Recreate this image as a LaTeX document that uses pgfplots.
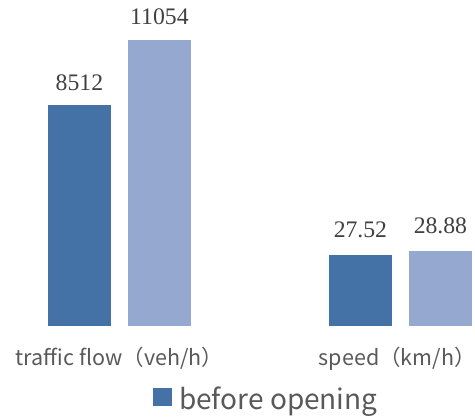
\documentclass[border=0pt]{standalone}
\usepackage{pgfplots}
\pgfplotsset{compat=1.18}
\usepackage{fontspec}
\setmainfont{Liberation Serif}
\newfontfamily\cjk{Noto Sans CJK SC}
\definecolor{dark}{HTML}{4472A6}
\definecolor{light}{HTML}{95A9D0}
\definecolor{labgray}{HTML}{595959}
\definecolor{numgray}{HTML}{404040}
\begin{document}
\begin{tikzpicture}
\useasboundingbox (0pt,-90pt) rectangle (475pt,326pt);
\pgfplotsset{
  common/.style={
    scale only axis, width=474.9pt, height=311pt,
    xmin=-0.425, xmax=1.265,
    ybar, bar width=63pt,
    axis line style={draw=none}, major tick length=0pt,
    ytick=\empty,
    nodes near coords,
    every node near coord/.append style={anchor=base, font=\fontsize{23.7}{24}\selectfont, text=numgray},
    /pgf/number format/.cd, fixed, precision=2, 1000 sep={}, assume math mode=true,
  }
}
\begin{axis}[common,
  ymin=0, ymax=12000,
  xtick={0},
  xticklabels={traffic flow（veh/h）},
  extra x ticks={1},
  extra x tick labels={speed（km/h\makebox[0.5em][l]{）}},
  extra x tick style={xticklabel style={xshift=-8.5pt}},
  xticklabel style={anchor=base, inner sep=0pt, yshift=-39.7pt, font=\cjk\fontsize{21.5}{22}\selectfont, text=labgray},
  every node near coord/.append style={yshift=14.8pt},
  legend style={at={(axis description cs:0.322,-0.196)}, anchor=north west, draw=none, fill=none, inner sep=0pt,
    nodes={inner sep=0pt, font=\cjk\fontsize{28}{29}\selectfont, text=labgray}},
  legend image code/.code={\fill[#1,draw=none] (0pt,-7.2pt) rectangle (18.5pt,11.3pt); \path (26pt,0pt);},
]
\addplot[fill=dark, draw=none, bar shift=-40pt] coordinates {(0,8512)};
\addlegendentry{before opening}
\addplot[fill=light, draw=none, bar shift=40pt] coordinates {(0,11054)};
\end{axis}
\begin{axis}[common,
  ymin=0, ymax=120,
  xtick=\empty,
  every node near coord/.append style={yshift=17.5pt},
]
\addplot[fill=dark, draw=none, bar shift=-40pt] coordinates {(1,27.52)};
\addplot[fill=light, draw=none, bar shift=40pt] coordinates {(1,28.88)};
\end{axis}
\end{tikzpicture}
\end{document}
